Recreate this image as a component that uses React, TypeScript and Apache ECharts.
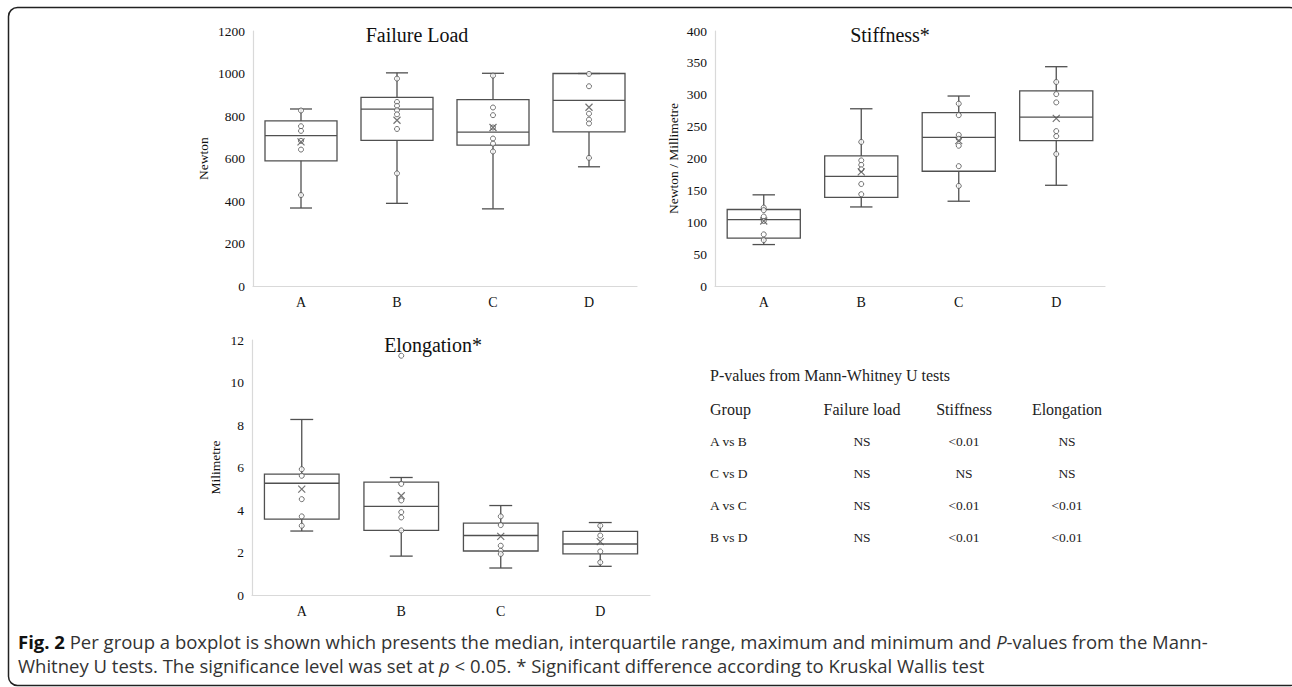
import React, { useEffect, useRef } from "react";
import * as echarts from "echarts";

const categories = ["A", "B", "C", "D"];

// [min, Q1, median, Q3, max]
const failureBox = [
  [367, 589, 708, 777, 833],
  [389, 685, 832, 888, 1003],
  [363, 663, 724, 877, 1001],
  [561, 725, 874, 1000, 1000],
];
const failureMean = [678, 780, 746, 841];
const failurePoints = [
  [826, 752, 730, 683, 642, 428],
  [976, 866, 848, 827, 808, 739, 530],
  [990, 840, 804, 746, 694, 670, 633],
  [998, 940, 811, 783, 765, 603],
];

const stiffnessBox = [
  [65, 75, 104, 120, 143],
  [124, 139, 172, 204, 278],
  [133, 180, 233, 272, 298],
  [158, 228, 265, 306, 344],
];
const stiffnessMean = [102, 179, 228, 263];
const stiffnessPoints = [
  [123, 119, 109, 102, 81, 72],
  [226, 197, 190, 183, 160, 144],
  [286, 268, 237, 231, 220, 188, 157],
  [320, 301, 288, 243, 235, 207],
];

const elongationBox = [
  [3.01, 3.57, 5.26, 5.69, 8.26],
  [1.83, 3.04, 4.17, 5.31, 5.53],
  [1.27, 2.07, 2.8, 3.38, 4.21],
  [1.35, 1.94, 2.4, 2.99, 3.41],
];
const elongationMean = [4.98, 4.67, 2.76, 2.51];
const elongationPoints = [
  [5.92, 5.61, 4.51, 3.7, 3.26],
  [11.26, 5.23, 4.45, 3.9, 3.65, 3.04],
  [3.7, 3.29, 2.32, 2.08, 1.93],
  [3.26, 2.8, 2.05, 1.54],
];

const tableTitle = "P-values from Mann-Whitney U tests";
const tableHeader = ["Group", "Failure load", "Stiffness", "Elongation"];
const tableRows = [
  ["A vs B", "NS", "<0.01", "NS"],
  ["C vs D", "NS", "NS", "NS"],
  ["A vs C", "NS", "<0.01", "<0.01"],
  ["B vs D", "NS", "<0.01", "<0.01"],
];

const SERIF = "'Liberation Serif', 'Times New Roman', serif";
const CAPTION_FONT = "'Open Sans', 'Noto Sans', sans-serif";
const CAPTION_SIZE = 18.5;
const LINE = "#505050";

function renderBox(params: any, api: any) {
  const x = api.value(0);
  const pMin = api.coord([x, api.value(1)]);
  const pQ1 = api.coord([x, api.value(2)]);
  const pMed = api.coord([x, api.value(3)]);
  const pQ3 = api.coord([x, api.value(4)]);
  const pMax = api.coord([x, api.value(5)]);
  const band = api.size([1, 0])[0];
  const bw = band * 0.75;
  const cw = band * 0.23;
  const cx = pMed[0];
  const st = { stroke: LINE, lineWidth: 1.3, fill: "none" };
  return {
    type: "group",
    children: [
      { type: "line", shape: { x1: cx, y1: pMax[1], x2: cx, y2: pQ3[1] }, style: st },
      { type: "line", shape: { x1: cx, y1: pQ1[1], x2: cx, y2: pMin[1] }, style: st },
      { type: "line", shape: { x1: cx - cw / 2, y1: pMax[1], x2: cx + cw / 2, y2: pMax[1] }, style: st },
      { type: "line", shape: { x1: cx - cw / 2, y1: pMin[1], x2: cx + cw / 2, y2: pMin[1] }, style: st },
      {
        type: "rect",
        shape: { x: cx - bw / 2, y: pQ3[1], width: bw, height: pQ1[1] - pQ3[1] },
        style: { stroke: LINE, lineWidth: 1.3, fill: "rgba(255,255,255,0)" },
      },
      { type: "line", shape: { x1: cx - bw / 2, y1: pMed[1], x2: cx + bw / 2, y2: pMed[1] }, style: st },
    ],
  };
}

const X_SYMBOL = "path://M0,0L10,10M10,0L0,10";

function panelSeries(idx: number, box: number[][], mean: number[], points: number[][]) {
  const boxData = box.map((b, i) => [i, ...b]);
  const ptData: any[] = [];
  points.forEach((arr, i) => arr.forEach((v) => ptData.push([categories[i], v])));
  const meanData = mean.map((v, i) => [categories[i], v]);
  return [
    {
      type: "custom",
      xAxisIndex: idx,
      yAxisIndex: idx,
      renderItem: renderBox,
      encode: { x: 0, y: [1, 2, 3, 4, 5] },
      data: boxData,
      z: 2,
    },
    {
      type: "scatter",
      xAxisIndex: idx,
      yAxisIndex: idx,
      symbol: "circle",
      symbolSize: 5,
      itemStyle: { color: "#fff", borderColor: LINE, borderWidth: 1 },
      data: ptData,
      z: 3,
    },
    {
      type: "scatter",
      xAxisIndex: idx,
      yAxisIndex: idx,
      symbol: X_SYMBOL,
      symbolSize: 7,
      itemStyle: { color: "none", borderColor: LINE, borderWidth: 1.2 },
      data: meanData,
      z: 4,
    },
  ];
}

function xAxis(idx: number) {
  return {
    type: "category",
    gridIndex: idx,
    data: categories,
    axisLine: { show: true, lineStyle: { color: "#d9d9d9", width: 1.2 } },
    axisTick: { show: false },
    axisLabel: { color: "#111", fontFamily: SERIF, fontSize: 14, margin: 9 },
    splitLine: { show: false },
  };
}

function yAxis(idx: number, max: number, interval: number, name: string, gap: number) {
  return {
    type: "value",
    gridIndex: idx,
    min: 0,
    max,
    interval,
    name,
    nameLocation: "middle",
    nameGap: gap,
    nameTextStyle: { color: "#111", fontFamily: SERIF, fontSize: 13.5 },
    axisLine: { show: true, lineStyle: { color: "#d9d9d9", width: 1.2 } },
    axisTick: { show: false },
    axisLabel: {
      color: "#111",
      fontFamily: SERIF,
      fontSize: 13.5,
      margin: 8,
      formatter: (v: number) => String(v),
    },
    splitLine: { show: false },
  };
}

export default function App() {
  const ref = useRef<HTMLDivElement>(null);
  useEffect(() => {
    if (!ref.current) return;
    const chart = echarts.init(ref.current, undefined, { renderer: "svg" });

    const graphics: any[] = [
      {
        type: "rect",
        shape: { x: 8.5, y: 7.5, width: 1290, height: 678, r: 9 },
        style: { fill: "none", stroke: "#222", lineWidth: 1.5 },
        z: 10,
      },
      { type: "text", x: 417, y: 35, style: { text: "Failure Load", fontFamily: SERIF, fontSize: 20, fill: "#111", textAlign: "center", textVerticalAlign: "middle" } },
      { type: "text", x: 890, y: 35, style: { text: "Stiffness*", fontFamily: SERIF, fontSize: 20, fill: "#111", textAlign: "center", textVerticalAlign: "middle" } },
      { type: "text", x: 433, y: 345, style: { text: "Elongation*", fontFamily: SERIF, fontSize: 20, fill: "#111", textAlign: "center", textVerticalAlign: "middle" } },
      { type: "text", x: 710, y: 375, style: { text: tableTitle, fontFamily: SERIF, fontSize: 16, fill: "#222", textAlign: "left", textVerticalAlign: "middle" } },
    ];
    const colX = [710, 862, 964, 1067];
    tableHeader.forEach((h, i) => {
      graphics.push({
        type: "text",
        x: colX[i],
        y: 409,
        style: { text: h, fontFamily: SERIF, fontSize: 16, fill: "#222", textAlign: i === 0 ? "left" : "center", textVerticalAlign: "middle" },
      });
    });
    const rowY = [441, 473, 505, 537];
    tableRows.forEach((row, r) => {
      row.forEach((cell, i) => {
        graphics.push({
          type: "text",
          x: colX[i],
          y: rowY[r],
          style: { text: cell, fontFamily: SERIF, fontSize: 13.5, fill: "#222", textAlign: i === 0 ? "left" : "center", textVerticalAlign: "middle" },
        });
      });
    });
    const rich = {
      b: { fontWeight: "bold", fill: "#111", fontFamily: CAPTION_FONT, fontSize: CAPTION_SIZE },
      i: { fontStyle: "italic", fill: "#333", fontFamily: CAPTION_FONT, fontSize: CAPTION_SIZE },
      n: { fill: "#333", fontFamily: CAPTION_FONT, fontSize: CAPTION_SIZE },
    };
    graphics.push({
      type: "text",
      x: 18,
      y: 641,
      style: {
        text: "{b|Fig. 2}{n| Per group a boxplot is shown which presents the median, interquartile range, maximum and minimum and }{i|P}{n|-values from the Mann-}",
        rich,
        fontFamily: CAPTION_FONT,
        fontSize: CAPTION_SIZE,
        fill: "#333",
        textVerticalAlign: "middle",
      },
    });
    graphics.push({
      type: "text",
      x: 18,
      y: 665,
      style: {
        text: "{n|Whitney U tests. The significance level was set at }{i|p}{n| < 0.05. * Significant difference according to Kruskal Wallis test}",
        rich,
        fontFamily: CAPTION_FONT,
        fontSize: CAPTION_SIZE,
        fill: "#333",
        textVerticalAlign: "middle",
      },
    });

    chart.setOption({
      animation: false,
      backgroundColor: "#fff",
      grid: [
        { left: 253, top: 31, width: 384, height: 255 },
        { left: 715, top: 31, width: 390, height: 255 },
        { left: 252, top: 340, width: 398, height: 255 },
      ],
      xAxis: [xAxis(0), xAxis(1), xAxis(2)],
      yAxis: [
        yAxis(0, 1200, 200, "Newton", 43),
        yAxis(1, 400, 50, "Newton / Millimetre", 35),
        yAxis(2, 12, 2, "Milimetre", 30),
      ],
      series: [
        ...panelSeries(0, failureBox, failureMean, failurePoints),
        ...panelSeries(1, stiffnessBox, stiffnessMean, stiffnessPoints),
        ...panelSeries(2, elongationBox, elongationMean, elongationPoints),
      ],
      graphic: graphics,
    });
    return () => chart.dispose();
  }, []);
  return (
    <div
      ref={ref}
      style={{ position: "absolute", left: 0, top: 0, width: 1292, height: 687, background: "#fff" }}
    />
  );
}
